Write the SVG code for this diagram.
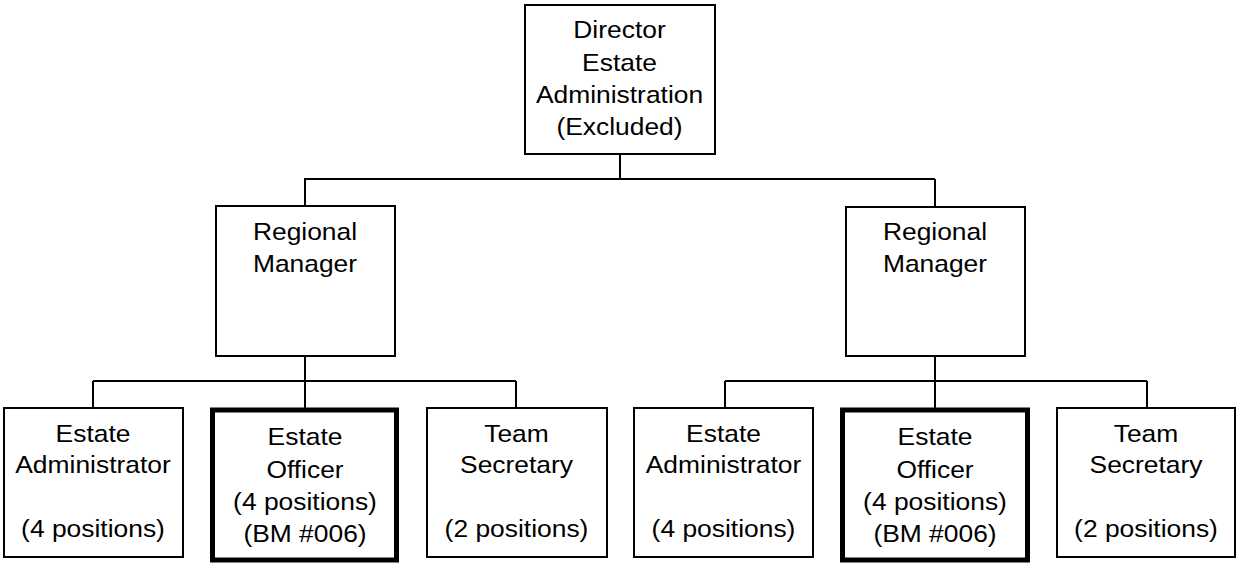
<svg xmlns="http://www.w3.org/2000/svg" width="1237" height="563" viewBox="0 0 1237 563">
<style>
.box{fill:#fff;stroke:#000;stroke-width:2}
.thick{fill:#fff;stroke:#000;stroke-width:5}
.conn{fill:none;stroke:#000;stroke-width:2}
text{font-family:"Liberation Sans",Arial,sans-serif;font-size:24px;fill:#000;text-anchor:middle}
</style>
<rect width="1237" height="563" fill="#fff"/>
<g id="connectors">
<path class="conn" d="M620 154V179M304 179H935M305 179V205M935 179V206"/>
<path class="conn" d="M305 356V408M93 381H516M93 381V407M516 381V407"/>
<path class="conn" d="M935 356V408M725 381H1147M725 381V407M1147 381V407"/>
</g>
<g id="director">
<rect class="box" x="525" y="5" width="190" height="149"/>
<g transform="translate(619.5 0) scale(1.1 1)">
<text x="0" y="38">Director</text>
<text x="0" y="71">Estate</text>
<text x="0" y="103">Administration</text>
<text x="0" y="135">(Excluded)</text>
</g>
</g>
<g id="rm-left">
<rect class="box" x="216" y="206" width="179" height="150"/>
<g transform="translate(305 0) scale(1.1 1)">
<text x="0" y="240">Regional</text>
<text x="0" y="272">Manager</text>
</g>
</g>
<g id="rm-right">
<rect class="box" x="846" y="207" width="179" height="149"/>
<g transform="translate(935 0) scale(1.1 1)">
<text x="0" y="240">Regional</text>
<text x="0" y="272">Manager</text>
</g>
</g>
<g id="ea-left">
<rect class="box" x="4" y="408" width="179" height="149"/>
<g transform="translate(93 0) scale(1.1 1)">
<text x="0" y="442">Estate</text>
<text x="0" y="473">Administrator</text>
<text x="0" y="537">(4 positions)</text>
</g>
</g>
<g id="eo-left">
<rect class="thick" x="212.5" y="410" width="184" height="150"/>
<g transform="translate(305 0) scale(1.1 1)">
<text x="0" y="445">Estate</text>
<text x="0" y="478">Officer</text>
<text x="0" y="510">(4 positions)</text>
<text x="0" y="542">(BM #006)</text>
</g>
</g>
<g id="ts-left">
<rect class="box" x="427" y="408" width="180" height="149"/>
<g transform="translate(516.5 0) scale(1.1 1)">
<text x="0" y="442">Team</text>
<text x="0" y="473">Secretary</text>
<text x="0" y="537">(2 positions)</text>
</g>
</g>
<g id="ea-right">
<rect class="box" x="634" y="408" width="179" height="149"/>
<g transform="translate(723.5 0) scale(1.1 1)">
<text x="0" y="442">Estate</text>
<text x="0" y="473">Administrator</text>
<text x="0" y="537">(4 positions)</text>
</g>
</g>
<g id="eo-right">
<rect class="thick" x="842.5" y="410" width="185" height="150"/>
<g transform="translate(935 0) scale(1.1 1)">
<text x="0" y="445">Estate</text>
<text x="0" y="478">Officer</text>
<text x="0" y="510">(4 positions)</text>
<text x="0" y="542">(BM #006)</text>
</g>
</g>
<g id="ts-right">
<rect class="box" x="1057" y="408" width="178" height="149"/>
<g transform="translate(1146 0) scale(1.1 1)">
<text x="0" y="442">Team</text>
<text x="0" y="473">Secretary</text>
<text x="0" y="537">(2 positions)</text>
</g>
</g>
</svg>
